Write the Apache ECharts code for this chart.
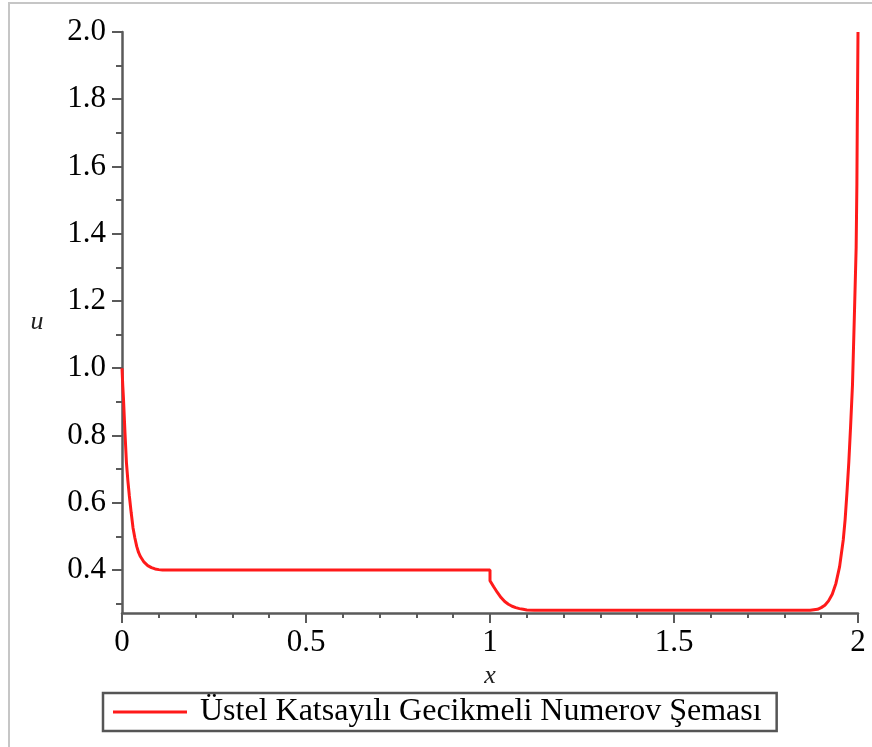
<!DOCTYPE html>
<html>
<head>
<meta charset="utf-8">
<title>Üstel Katsayılı Gecikmeli Numerov Şeması</title>
<script src="https://cdn.jsdelivr.net/npm/echarts@6/dist/echarts.min.js"></script>
<style>
  html, body { margin: 0; padding: 0; background: #fff; }
  #chart { width: 872px; height: 747px; }
</style>
</head>
<body>
<div id="chart"></div>
<script>
// values
var xs = [0, 0.002, 0.004, 0.008, 0.012, 0.016, 0.020, 0.025, 0.030, 0.035, 0.040, 0.045, 0.050, 0.060, 0.070, 0.080, 0.090, 0.100, 0.110,
  0.5, 1.0, 1.0, 1.010, 1.020, 1.030, 1.040, 1.050, 1.060, 1.070, 1.080, 1.090, 1.100, 1.120,
  1.5, 1.870, 1.890, 1.900, 1.910, 1.920, 1.930, 1.940, 1.950, 1.960, 1.965, 1.970, 1.975, 1.980, 1.985, 1.990, 1.995, 1.997, 1.998, 2.0];
var us = [1.0, 0.95, 0.91, 0.81, 0.72, 0.665, 0.62, 0.57, 0.525, 0.495, 0.47, 0.452, 0.44, 0.423, 0.413, 0.407, 0.403, 0.401, 0.400,
  0.400, 0.400, 0.368, 0.350, 0.333, 0.318, 0.306, 0.298, 0.292, 0.288, 0.285, 0.283, 0.281, 0.280,
  0.280, 0.280, 0.283, 0.288, 0.295, 0.308, 0.328, 0.36, 0.41, 0.49, 0.55, 0.63, 0.72, 0.83, 0.95, 1.15, 1.36, 1.55, 1.72, 2.0];

var seriesName = 'Üstel Katsayılı Gecikmeli Numerov Şeması';
var yMajor = [0.4, 0.6, 0.8, 1.0, 1.2, 1.4, 1.6, 1.8, 2.0];
var yMinor = [0.3, 0.5, 0.7, 0.9, 1.1, 1.3, 1.5, 1.7, 1.9];
var yMin = 0.272, yMax = 2.0;

var points = xs.map(function (x, i) { return [x, us[i]]; });

var serif = 'Liberation Serif';
var axisColor = '#5a5a5a';

var chart = echarts.init(document.getElementById('chart'));
chart.setOption({
  animation: false,
  backgroundColor: '#fff',
  graphic: [{
    type: 'rect',
    shape: { x: 9, y: 3, width: 900, height: 800 },
    style: { fill: 'none', stroke: '#c6c6c6', lineWidth: 2 },
    z: -10
  }],
  grid: { left: 122, right: 14, top: 32, bottom: 134, containLabel: false },
  legend: {
    left: 103,
    top: 693,
    icon: 'rect',
    itemWidth: 74,
    itemHeight: 3,
    padding: [3, 15, 3, 10],
    borderColor: '#555',
    borderWidth: 2.5,
    textStyle: { fontFamily: serif, fontSize: 32, color: '#000', lineHeight: 32, padding: [0, 0, 0, 8] },
    data: [seriesName]
  },
  xAxis: {
    type: 'value',
    min: 0,
    max: 2,
    interval: 0.5,
    name: 'x',
    nameLocation: 'middle',
    nameGap: 47,
    nameTextStyle: { fontFamily: serif, fontStyle: 'italic', fontSize: 26, color: '#222' },
    axisLine: { show: true, onZero: false, lineStyle: { color: axisColor, width: 2.5 } },
    axisTick: { show: true, inside: false, length: 10, lineStyle: { color: axisColor, width: 2 } },
    minorTick: { show: true, splitNumber: 5, length: 5, lineStyle: { color: axisColor, width: 2 } },
    axisLabel: { margin: 14, fontFamily: serif, fontSize: 31, color: '#000' },
    splitLine: { show: false }
  },
  yAxis: [{
    type: 'value',
    min: yMin,
    max: yMax,
    position: 'left',
    name: 'u',
    nameLocation: 'middle',
    nameRotate: 0,
    nameGap: 85,
    nameTextStyle: { fontFamily: serif, fontStyle: 'italic', fontSize: 26, color: '#222', align: 'center', verticalAlign: 'middle' },
    axisLine: { show: true, onZero: false, lineStyle: { color: axisColor, width: 2.5 } },
    axisTick: { show: true, inside: false, length: 10, customValues: yMajor, lineStyle: { color: axisColor, width: 2 } },
    axisLabel: {
      margin: 16, fontFamily: serif, fontSize: 31, color: '#000',
      customValues: yMajor,
      formatter: function (v) { return v.toFixed(1); }
    },
    splitLine: { show: false }
  }, {
    type: 'value',
    min: yMin,
    max: yMax,
    position: 'left',
    offset: 0,
    axisLine: { show: false },
    axisTick: { show: true, inside: false, length: 6, customValues: yMinor, lineStyle: { color: axisColor, width: 2 } },
    axisLabel: { show: false },
    splitLine: { show: false }
  }],
  series: [{
    name: seriesName,
    type: 'line',
    data: points,
    showSymbol: false,
    symbol: 'none',
    color: '#ff1a1a',
    lineStyle: { color: '#ff1a1a', width: 3 },
    z: 3
  }]
});
</script>
</body>
</html>
